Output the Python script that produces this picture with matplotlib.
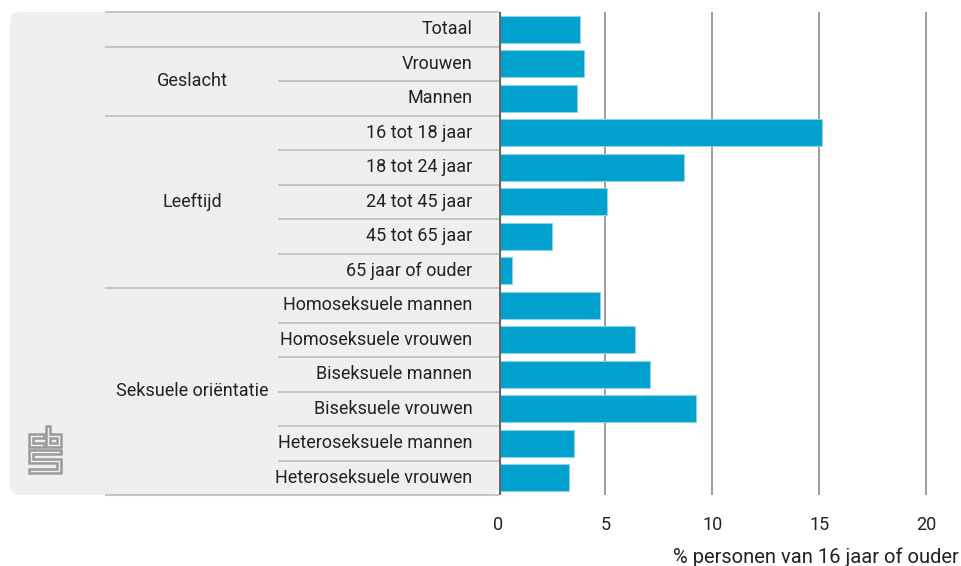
import matplotlib

matplotlib.use("Agg")
import matplotlib.pyplot as plt
from matplotlib.patches import FancyBboxPatch, Polygon
from matplotlib.transforms import blended_transform_factory

# data
categories = [
    "Totaal",
    "Vrouwen", "Mannen",
    "16 tot 18 jaar", "18 tot 24 jaar", "24 tot 45 jaar", "45 tot 65 jaar", "65 jaar of ouder",
    "Homoseksuele mannen", "Homoseksuele vrouwen", "Biseksuele mannen", "Biseksuele vrouwen",
    "Heteroseksuele mannen", "Heteroseksuele vrouwen",
]
values = [3.8, 4.0, 3.65, 15.1, 8.65, 5.05, 2.5, 0.65, 4.75, 6.4, 7.1, 9.25, 3.55, 3.3]
groups = [("", 0, 0), ("Geslacht", 1, 2), ("Leeftijd", 3, 7), ("Seksuele oriëntatie", 8, 13)]
xticks = [0, 5, 10, 15, 20]
xlabel = "% personen van 16 jaar of ouder"

plt.rcParams["font.family"] = ["Roboto", "DejaVu Sans"]
W, H = 961, 566
fig = plt.figure(figsize=(W / 100, H / 100), dpi=100)

# background axes in pixel coordinates
bg = fig.add_axes([0, 0, 1, 1], zorder=0)
bg.set_xlim(0, W)
bg.set_ylim(H, 0)
bg.axis("off")

top_px, bot_px, x0_px = 12, 495, 498.5
ax = fig.add_axes([x0_px / W, 1 - bot_px / H, (W - 2.5 - x0_px) / W, (bot_px - top_px) / H], zorder=1)
ax.patch.set_alpha(0)
n = len(categories)
ax.set_ylim(n - 0.5, -0.5)
ax.set_xlim(0, 21.5)

# grey label panel
bg.add_patch(FancyBboxPatch((10, top_px), x0_px - 10, bot_px - top_px,
                            boxstyle="round,pad=0,rounding_size=10",
                            facecolor="#efefef", edgecolor="none"))

trans = blended_transform_factory(bg.transData, ax.transData)
grey = "#c6c6c6"
txt = "#222222"
boundaries = [-0.5] + [end + 0.5 for _, _, end in groups]
for b in boundaries:
    bg.plot([105, x0_px], [b, b], color=grey, lw=1.5, transform=trans, solid_capstyle="butt")
for name, start, end in groups:
    for i in range(start, end):
        bg.plot([278, x0_px], [i + 0.5, i + 0.5], color=grey, lw=1.5, transform=trans,
                solid_capstyle="butt")
    if name:
        bg.text(192, (start + end) / 2, name, transform=trans, ha="center", va="center",
                fontsize=13, color=txt)

for i, cat in enumerate(categories):
    bg.text(472.5, i, cat, transform=trans, ha="right", va="center", fontsize=13, color=txt)

# cbs logo
logo = "#9a9a9a"
shapes = [
    [(29, 434), (44, 434), (44, 438), (33, 438), (33, 443), (44, 443), (44, 447), (29, 447)],
    [(46, 426), (50, 426), (50, 434), (61, 434), (61, 447), (46, 447)],
    [(50, 438), (57, 438), (57, 443), (50, 443)],
    [(29, 450), (61, 450), (61, 454), (33, 454), (33, 459), (61, 459), (61, 473),
     (29, 473), (29, 469), (57, 469), (57, 463), (29, 463)],
]
for s in shapes:
    bg.add_patch(Polygon(s, closed=True, fill=False, edgecolor=logo, lw=1.8))

# bars
ax.barh(range(n), values, height=0.78, color="#00a1cd", edgecolor="#8fd3ea", linewidth=0.8,
        zorder=3)
for t in xticks[1:]:
    ax.axvline(t, color="#8c8c8c", lw=1.2, zorder=1)
ax.axvline(0, color="#666666", lw=3, zorder=4)

for s in ax.spines.values():
    s.set_visible(False)
ax.set_yticks([])
ax.set_xticks(xticks)
ax.tick_params(axis="x", length=0, pad=15, labelsize=13, labelcolor=txt)
ax.set_xlabel(xlabel, fontsize=14.5, color=txt, loc="right", labelpad=10)

fig.savefig("out.png", dpi=100)
